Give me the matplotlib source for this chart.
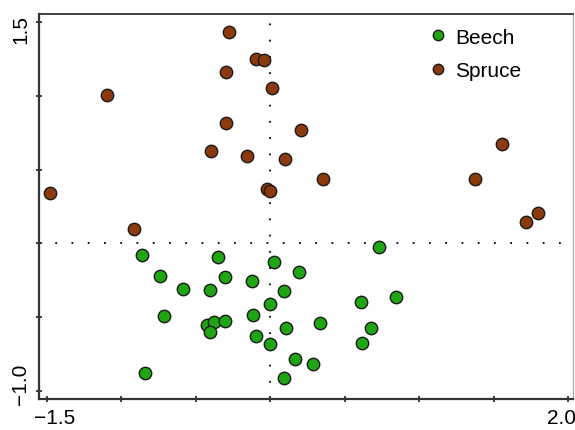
import matplotlib
matplotlib.use("Agg")
import matplotlib.pyplot as plt
import matplotlib.transforms as mtransforms
from matplotlib.lines import Line2D

plt.rcParams['font.family'] = ['Liberation Sans', 'DejaVu Sans']

# Ordination scores (axis 1, axis 2)
beech_x = [-0.864, -0.354, 0.027, -0.739, -0.304, -0.123, -0.586, -0.405, 0.089,
           -0.005, -0.717, -0.114, -0.425, -0.381, -0.304, -0.403, -0.094, -0.005,
           0.107, -0.842, 0.094, 0.732, 0.190, 0.611, 0.848, 0.334, 0.680, 0.616,
           0.168, 0.284]
beech_y = [-0.079, -0.095, -0.129, -0.221, -0.228, -0.255, -0.309, -0.316, -0.323,
           -0.413, -0.492, -0.483, -0.553, -0.531, -0.528, -0.603, -0.628, -0.678,
           -0.571, -0.876, -0.915, -0.027, -0.194, -0.400, -0.366, -0.542, -0.571,
           -0.673, -0.786, -0.815]

spruce_x = [-0.280, -0.094, -0.045, -0.300, 0.011, -1.097, -0.295, -0.398, -0.154,
            0.096, -1.482, -0.022, 0.000, 0.208, 0.354, 1.560, 1.377, 1.798, 1.717,
            -0.913]
spruce_y = [1.434, 1.249, 1.242, 1.163, 1.055, 1.005, 0.818, 0.623, 0.591, 0.574,
            0.343, 0.368, 0.354, 0.766, 0.434, 0.673, 0.434, 0.208, 0.147, 0.095]

x_ticks = [-1.5, -1.0, -0.5, 0.0, 0.5, 1.0, 1.5, 2.0]
y_ticks = [-1.0, -0.5, 0.0, 0.5, 1.0, 1.5]
x_labels = ['\u22121.5', '', '', '', '', '', '', '2.0']
y_labels = ['\u22121.0', '', '', '', '', '1.5']

beech_color = '#1fa414'
spruce_color = '#8a3a0c'
edge = '#1a1a1a'

fig = plt.figure(figsize=(5.75, 4.31), dpi=100)
ax = fig.add_axes([0.0678, 0.0719, 0.9287, 0.8931])

ax.axhline(0, color='black', lw=1.3, ls=(0, (1, 8)), zorder=1)
ax.axvline(0, color='black', lw=1.3, ls=(0, (1, 8)), zorder=1)

ax.scatter(beech_x, beech_y, s=80, c=beech_color, edgecolors=edge, linewidths=1.0, zorder=3)
ax.scatter(spruce_x, spruce_y, s=80, c=spruce_color, edgecolors=edge, linewidths=1.0, zorder=3)

ax.set_xlim(-1.554, 2.034)
ax.set_ylim(-1.054, 1.554)

ax.set_xticks(x_ticks)
ax.set_xticklabels(x_labels, fontsize=15)
ax.set_yticks(y_ticks)
ax.set_yticklabels(y_labels, fontsize=15, rotation=90, va='center')
ax.tick_params(direction='inout', length=5, width=1.2, color='#222222', pad=4)

for side in ['left', 'bottom']:
    ax.spines[side].set_linewidth(1.6)
    ax.spines[side].set_color('#333333')
ax.spines['top'].set_linewidth(1.3)
ax.spines['top'].set_color('#333333')
ax.spines['right'].set_linewidth(0.8)
ax.spines['right'].set_color('#aaaaaa')

handles = [
    Line2D([], [], ls='none', marker='o', ms=7.5, mfc=beech_color, mec=edge, mew=1.0),
    Line2D([], [], ls='none', marker='o', ms=7.5, mfc=spruce_color, mec=edge, mew=1.0),
]
ax.legend(handles, ['Beech', 'Spruce'], loc='upper left', bbox_to_anchor=(0.703, 1.0),
          frameon=False, fontsize=15, handletextpad=0.3, labelspacing=0.68,
          handlelength=1.0, borderaxespad=0.25)

# pull the end labels inward so they stay inside the figure
fig.canvas.draw()


def nudge(label, dx_px, dy_px):
    off = mtransforms.ScaledTranslation(dx_px / fig.dpi, dy_px / fig.dpi, fig.dpi_scale_trans)
    label.set_transform(label.get_transform() + off)


xl = ax.get_xticklabels()
nudge(xl[0], 8, 0)
nudge(xl[-1], -6, 0)
yl = ax.get_yticklabels()
nudge(yl[0], 0, 8)
nudge(yl[-1], 0, -6)

fig.savefig('out.png', dpi=100)
